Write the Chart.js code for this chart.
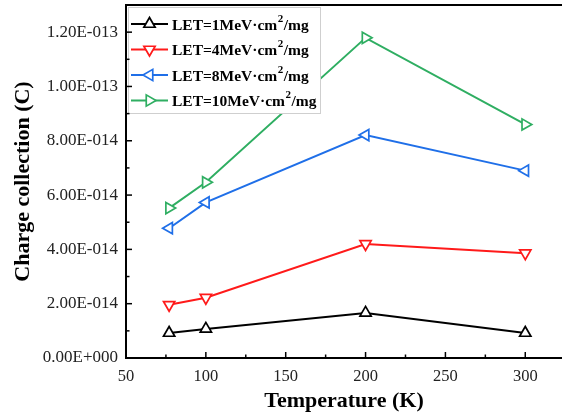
<!DOCTYPE html>
<html>
<head>
<meta charset="utf-8">
<script src="https://cdn.jsdelivr.net/npm/chart.js@4.4.1/dist/chart.umd.min.js"></script>
<style>
html,body{margin:0;padding:0;background:#fff;}
#wrap{width:562px;height:415px;position:relative;}
</style>
</head>
<body>
<div id="wrap"><canvas id="c" width="562" height="415"></canvas></div>
<script>
// ---- data ----
const temperatures = [77, 100, 200, 300];
const let1  = [0.92e-14, 1.07e-14, 1.66e-14, 0.92e-14];
const let4  = [1.96e-14, 2.22e-14, 4.20e-14, 3.86e-14];
const let8  = [4.78e-14, 5.73e-14, 8.21e-14, 6.90e-14];
const let10 = [5.52e-14, 6.47e-14, 11.79e-14, 8.60e-14];
const legendLabels = ['LET=1MeV·cm²/mg', 'LET=4MeV·cm²/mg', 'LET=8MeV·cm²/mg', 'LET=10MeV·cm²/mg'];
const xTickValues = [50, 75, 100, 125, 150, 175, 200, 225, 250, 275, 300];
const xTickLabels = ['50', '', '100', '', '150', '', '200', '', '250', '', '300'];
const yTickValues = [0, 1e-14, 2e-14, 3e-14, 4e-14, 5e-14, 6e-14, 7e-14, 8e-14, 9e-14, 10e-14, 11e-14, 12e-14];
const yTickLabels = ['0.00E+000', '', '2.00E-014', '', '4.00E-014', '', '6.00E-014', '', '8.00E-014', '', '1.00E-013', '', '1.20E-013'];

const colors = ['#000000', '#ff1a1a', '#1f6fe8', '#2fae62'];
const rotations = [0, 180, 270, 90];
const series = [let1, let4, let8, let10];

const SERIF = '"Liberation Serif", "Times New Roman", serif';

const datasets = series.map((s, i) => ({
  label: legendLabels[i],
  data: temperatures.map((t, j) => ({x: t, y: s[j]})),
  borderColor: colors[i],
  backgroundColor: '#ffffff',
  borderWidth: 2,
  pointStyle: 'triangle',
  pointRotation: rotations[i],
  pointRadius: 6.5,
  pointBorderWidth: 1.7,
  pointBackgroundColor: '#ffffff',
  pointBorderColor: colors[i],
  tension: 0
}));

const zeroPad = s => { s.paddingTop = 0; s.paddingBottom = 0; s.paddingLeft = 0; s.paddingRight = 0; };

const frame = {
  id: 'frame',
  afterDraw(chart) {
    const ctx = chart.ctx, a = chart.chartArea;
    const xs = chart.scales.x, ys = chart.scales.y;
    ctx.save();
    ctx.strokeStyle = '#000';
    ctx.lineWidth = 2;
    ctx.beginPath(); ctx.moveTo(a.left - 1, a.top); ctx.lineTo(a.right, a.top); ctx.stroke();
    ctx.lineWidth = 1.5;
    xTickValues.forEach((v, i) => {
      const px = xs.getPixelForValue(v);
      const len = xTickLabels[i] ? 6 : 3.5;
      ctx.beginPath(); ctx.moveTo(px, a.bottom); ctx.lineTo(px, a.bottom - len); ctx.stroke();
    });
    yTickValues.forEach((v, i) => {
      const py = ys.getPixelForValue(v);
      const len = yTickLabels[i] ? 6 : 3.5;
      ctx.beginPath(); ctx.moveTo(a.left, py); ctx.lineTo(a.left + len, py); ctx.stroke();
    });
    ctx.restore();
  }
};

const legendBox = {
  id: 'legendBox',
  afterDatasetsDraw(chart) {
    const ctx = chart.ctx;
    const bx = 128, by = 7, bw = 192, bh = 106;
    ctx.save();
    ctx.fillStyle = '#ffffff';
    ctx.fillRect(bx, by, bw, bh);
    ctx.strokeStyle = '#cfcfcf';
    ctx.lineWidth = 1;
    ctx.strokeRect(bx + 0.5, by + 0.5, bw, bh);
    chart.data.datasets.forEach((ds, i) => {
      const cy = 24 + i * 25.5;
      ctx.strokeStyle = ds.borderColor;
      ctx.lineWidth = 2;
      ctx.beginPath(); ctx.moveTo(131, cy); ctx.lineTo(168, cy); ctx.stroke();
      ctx.lineWidth = 1.7;
      ctx.fillStyle = '#fff';
      Chart.helpers.drawPoint(ctx, {pointStyle: 'triangle', rotation: ds.pointRotation, radius: 6.5, borderWidth: 1.7}, 149.5, cy);
      const parts = ds.label.split('²');
      ctx.fillStyle = '#000';
      ctx.textBaseline = 'middle';
      ctx.textAlign = 'left';
      let x = 172;
      ctx.font = 'bold 15.5px ' + SERIF;
      ctx.fillText(parts[0], x, cy + 1.5);
      x += ctx.measureText(parts[0]).width;
      ctx.font = 'bold 11px ' + SERIF;
      ctx.fillText('2', x + 0.5, cy - 5);
      x += ctx.measureText('2').width + 1;
      ctx.font = 'bold 15.5px ' + SERIF;
      ctx.fillText(parts[1], x, cy + 1.5);
    });
    ctx.restore();
  }
};

new Chart(document.getElementById('c'), {
  type: 'line',
  data: { datasets },
  options: {
    responsive: false,
    animation: false,
    devicePixelRatio: 1,
    layout: { autoPadding: false, padding: { top: 5, right: 0, left: 0, bottom: 0 } },
    plugins: { legend: { display: false }, tooltip: { enabled: false } },
    scales: {
      x: {
        type: 'linear',
        min: 50, max: 323,
        afterBuildTicks: s => { s.ticks = xTickValues.map(v => ({value: v})); },
        afterFit: s => { s.height = 57; zeroPad(s); },
        ticks: {
          autoSkip: false, maxRotation: 0,
          padding: 9,
          color: '#222',
          font: { family: SERIF, size: 16.5 },
          callback: (v, i) => xTickLabels[i]
        },
        grid: { display: false, drawTicks: false },
        border: { display: true, color: '#000', width: 2 },
        title: {
          display: true, text: 'Temperature (K)', color: '#000',
          font: { family: SERIF, size: 22, weight: 'bold' },
          padding: { top: 0, bottom: 0 }
        }
      },
      y: {
        type: 'linear',
        min: 0, max: 1.3e-13,
        afterBuildTicks: s => { s.ticks = yTickValues.map(v => ({value: v})); },
        afterFit: s => { s.width = 126; zeroPad(s); },
        ticks: {
          autoSkip: false,
          padding: 8,
          color: '#222',
          font: { family: SERIF, size: 17 },
          callback: (v, i) => yTickLabels[i]
        },
        grid: { display: false, drawTicks: false },
        border: { display: true, color: '#000', width: 2 },
        title: {
          display: true, text: 'Charge collection (C)', color: '#000',
          font: { family: SERIF, size: 22, weight: 'bold' },
          padding: { top: 10, bottom: 0 }
        }
      }
    }
  },
  plugins: [frame, legendBox]
});
</script>
</body>
</html>
